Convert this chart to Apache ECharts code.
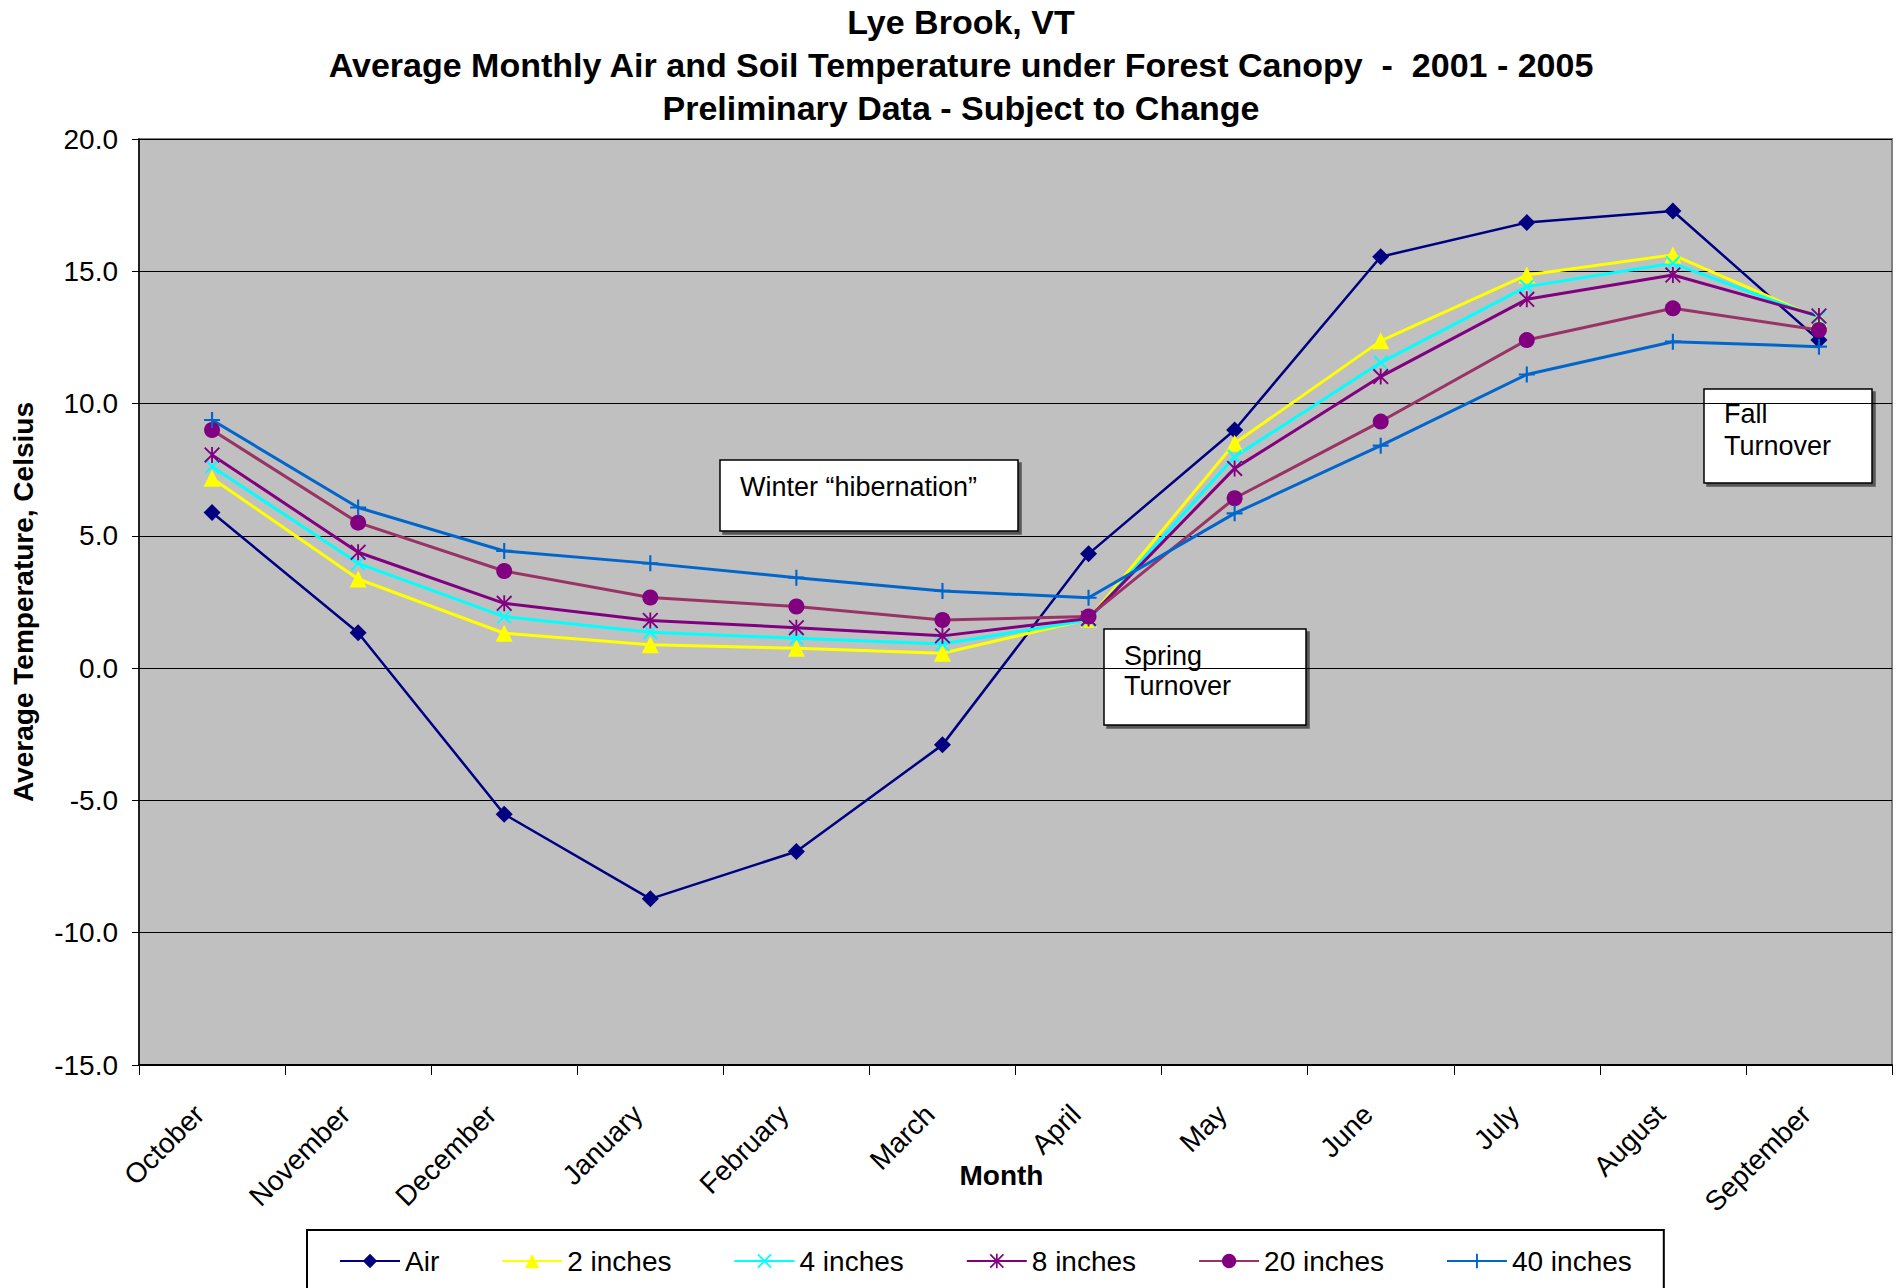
<!DOCTYPE html>
<html>
<head>
<meta charset="utf-8">
<script src="https://cdn.jsdelivr.net/npm/echarts@6/dist/echarts.min.js"></script>
<style>
  html, body { margin: 0; padding: 0; background: #fff; }
  #lye_brook_temp { width: 1900px; height: 1288px; }
</style>
</head>
<body>
<div id="lye_brook_temp"></div>
<script>
// 월별 평균 기온 / 토양 온도 (2001 - 2005)
var months = ['October', 'November', 'December', 'January', 'February', 'March', 'April', 'May', 'June', 'July', 'August', 'September'];
var yTicks = [-15, -10, -5, 0, 5, 10, 15, 20];

var airTemp    = [5.88, 1.34, -5.52, -8.72, -6.93, -2.90, 4.32, 9.00, 15.55, 16.84, 17.28, 12.40];
var soil2in    = [7.18, 3.37, 1.32, 0.88, 0.75, 0.56, 1.85, 8.50, 12.37, 14.86, 15.62, 13.22];
var soil4in    = [7.62, 3.96, 1.95, 1.36, 1.13, 0.91, 1.82, 7.99, 11.55, 14.42, 15.30, 13.25];
var soil8in    = [8.06, 4.38, 2.45, 1.80, 1.53, 1.22, 1.88, 7.55, 11.02, 13.94, 14.86, 13.31];
var soil20in   = [9.00, 5.50, 3.67, 2.67, 2.33, 1.82, 1.95, 6.42, 9.32, 12.40, 13.60, 12.78];
var soil40in   = [9.38, 6.07, 4.43, 3.96, 3.42, 2.92, 2.66, 5.85, 8.41, 11.10, 12.34, 12.15];

var fontAll = '"Liberation Sans", Arial, sans-serif';

// 마커 모양 (엑셀 스타일)
var symPlus = 'path://M5.2,0 h1.6 v12 h-1.6 z M0,5.2 h12 v1.6 h-12 z';
var symCross = 'path://M0,1.1 L1.1,0 L12,10.9 L10.9,12 Z M10.9,0 L12,1.1 L1.1,12 L0,10.9 Z';
var symStar = 'path://M0,1 L1,0 L12,11 L11,12 Z M11,0 L12,1 L1,12 L0,11 Z M5.3,0 h1.4 v12 h-1.4 z';

var domTemp = document.getElementById('lye_brook_temp');
var myChartTemp = echarts.init(domTemp, null, {
  renderer: 'svg',
  useDirtyRect: false
});

function makeSeries(name, data, lineColor, markColor, symbol, size, width) {
  return {
    name: name,
    type: 'line',
    data: data,
    symbol: symbol,
    symbolSize: size,
    showAllSymbol: true,
    itemStyle: { color: markColor },
    lineStyle: { color: lineColor, width: width },
    emphasis: { disabled: true }
  };
}

var optionTemp = {
  animation: false,
  textStyle: { fontFamily: fontAll, color: '#000' },
  title: {
    text: 'Lye Brook, VT\nAverage Monthly Air and Soil Temperature under Forest Canopy  -  2001 - 2005\nPreliminary Data - Subject to Change',
    left: 961,
    top: 0,
    textAlign: 'center',
    padding: 0,
    textStyle: {
      fontFamily: fontAll,
      fontSize: 34,
      fontWeight: 'bold',
      color: '#000',
      lineHeight: 43
    }
  },
  grid: {
    left: 139,
    right: 8,
    top: 139,
    bottom: 223,
    show: true,
    backgroundColor: '#C0C0C0',
    borderColor: '#808080',
    borderWidth: 2
  },
  legend: {
    left: 307,
    top: 1230,
    padding: [17, 32, 60, 32],
    itemGap: 62,
    itemWidth: 60,
    itemHeight: 18,
    borderColor: '#000',
    borderWidth: 2,
    backgroundColor: '#fff',
    selectedMode: false,
    textStyle: { fontFamily: fontAll, fontSize: 28, color: '#000' }
  },
  xAxis: {
    type: 'category',
    data: months,
    boundaryGap: true,
    axisLine: { onZero: false, lineStyle: { color: '#000', width: 2 } },
    axisTick: { show: true, length: 10, interval: 0, lineStyle: { color: '#000', width: 1 } },
    axisLabel: {
      interval: 0,
      rotate: 45,
      margin: 32,
      padding: [0, 18, 0, 0],
      fontSize: 28,
      color: '#000',
      fontFamily: fontAll
    },
    name: 'Month',
    nameLocation: 'middle',
    nameGap: 96,
    nameMoveOverlap: false,
    nameTextStyle: {
      fontFamily: fontAll,
      fontSize: 28,
      fontWeight: 'bold',
      color: '#000',
      padding: [0, 28, 0, 0]
    }
  },
  yAxis: {
    type: 'value',
    min: yTicks[0],
    max: yTicks[yTicks.length - 1],
    interval: 5,
    axisLine: { show: true, lineStyle: { color: '#000', width: 1.5 } },
    axisTick: { show: true, length: 7, lineStyle: { color: '#000' } },
    axisLabel: {
      fontSize: 28,
      color: '#000',
      margin: 21,
      fontFamily: fontAll,
      formatter: function (value) {
        return value.toFixed(1);
      }
    },
    splitLine: { show: true, lineStyle: { color: '#000', width: 1 } },
    name: 'Average Temperature, Celsius',
    nameLocation: 'middle',
    nameGap: 102,
    nameMoveOverlap: false,
    nameTextStyle: {
      fontFamily: fontAll,
      fontSize: 28,
      fontWeight: 'bold',
      color: '#000'
    }
  },
  series: [
    makeSeries('Air', airTemp, '#000080', '#000080', 'diamond', 17, 2.5),
    makeSeries('2 inches', soil2in, '#FFFF00', '#FFFF00', 'triangle', 17, 3),
    makeSeries('4 inches', soil4in, '#00FFFF', '#00FFFF', symCross, 15, 3),
    makeSeries('8 inches', soil8in, '#800080', '#800080', symStar, 16, 3),
    makeSeries('20 inches', soil20in, '#993366', '#800080', 'circle', 16, 3),
    makeSeries('40 inches', soil40in, '#0066CC', '#0066CC', symPlus, 16, 3)
  ],
  graphic: [
    {
      type: 'group',
      z: 100,
      children: [
        { type: 'rect', shape: { x: 720, y: 460, width: 298, height: 71 },
          style: { fill: '#fff', stroke: '#000', lineWidth: 1.5, shadowColor: 'rgba(0,0,0,0.55)', shadowOffsetX: 3, shadowOffsetY: 3 } },
        { type: 'text', x: 740, y: 487,
          style: { text: 'Winter “hibernation”', font: '27px ' + fontAll, fill: '#000', verticalAlign: 'middle' } },

        { type: 'rect', shape: { x: 1104, y: 629, width: 202, height: 96 },
          style: { fill: '#fff', stroke: '#000', lineWidth: 1.5, shadowColor: 'rgba(0,0,0,0.55)', shadowOffsetX: 3, shadowOffsetY: 3 } },
        { type: 'text', x: 1124, y: 671,
          style: { text: 'Spring\nTurnover', font: '27px ' + fontAll, fill: '#000', lineHeight: 30, verticalAlign: 'middle' } },

        { type: 'rect', shape: { x: 1704, y: 389, width: 168, height: 94 },
          style: { fill: '#fff', stroke: '#000', lineWidth: 1.5, shadowColor: 'rgba(0,0,0,0.55)', shadowOffsetX: 3, shadowOffsetY: 3 } },
        { type: 'text', x: 1724, y: 430,
          style: { text: 'Fall\nTurnover', font: '27px ' + fontAll, fill: '#000', lineHeight: 32, verticalAlign: 'middle' } }
      ]
    }
  ]
};

if (optionTemp && typeof optionTemp === 'object') {
  myChartTemp.setOption(optionTemp);
}

window.addEventListener('resize', myChartTemp.resize);
</script>
</body>
</html>
